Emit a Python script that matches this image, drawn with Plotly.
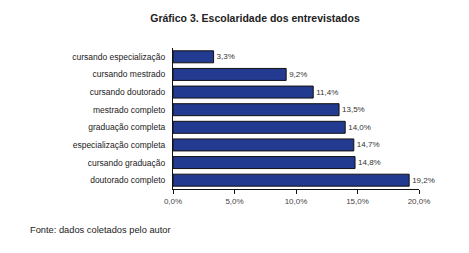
import plotly.graph_objects as go

categories = ["doutorado completo", "cursando graduação", "especialização completa",
              "graduação completa", "mestrado completo", "cursando doutorado",
              "cursando mestrado", "cursando especialização"]
values = [19.2, 14.8, 14.7, 14.0, 13.5, 11.4, 9.2, 3.3]
labels = [f"{v:.1f}%".replace(".", ",") for v in values]
tick_vals = [0, 5, 10, 15, 20]
tick_text = ["0,0%", "5,0%", "10,0%", "15,0%", "20,0%"]

L, T, PW, PH, W, H = 165, 40, 246, 141, 469, 253

fig = go.Figure()
fig.add_trace(go.Bar(
    y=categories, x=values, orientation="h",
    marker=dict(color="#233a91", line=dict(color="#111111", width=1)),
    text=labels, textposition="outside", constraintext="none", cliponaxis=False,
    textfont=dict(family="Liberation Sans, Arial", size=8, color="#333333"),
    width=0.68,
))
fig.update_layout(
    width=W, height=H,
    margin=dict(l=L, r=W - L - PW, t=T, b=H - T - PH),
    paper_bgcolor="white", plot_bgcolor="white",
    showlegend=False,
    title=dict(text="<b>Gráfico 3. Escolaridade dos entrevistados</b>",
               x=247 / W, xanchor="center", y=1 - 10 / H, yanchor="middle",
               font=dict(family="Liberation Sans, Arial", size=10.5, color="#222222")),
    xaxis=dict(range=[0, 20], tickvals=tick_vals, ticktext=tick_text,
               showgrid=False, zeroline=False, showline=True, linecolor="#111111",
               linewidth=1, ticks="outside", ticklen=4, tickcolor="#111111",
               tickfont=dict(family="Liberation Sans, Arial", size=8, color="#444444")),
    yaxis=dict(showgrid=False, zeroline=False, showline=True, linecolor="#111111",
               linewidth=1, ticks="", ticklabelstandoff=5,
               range=[-0.5, 7.5],
               tickfont=dict(family="Liberation Sans, Arial", size=8.5, color="#222222")),
    annotations=[dict(text="Fonte: dados coletados pelo autor", xref="paper", yref="paper",
                      x=(20 - L) / PW, y=1 - (222 - T) / PH, xanchor="left", yanchor="middle",
                      showarrow=False,
                      font=dict(family="Liberation Sans, Arial", size=9.3, color="#222222"))],
)
fig.write_html("out.html")
